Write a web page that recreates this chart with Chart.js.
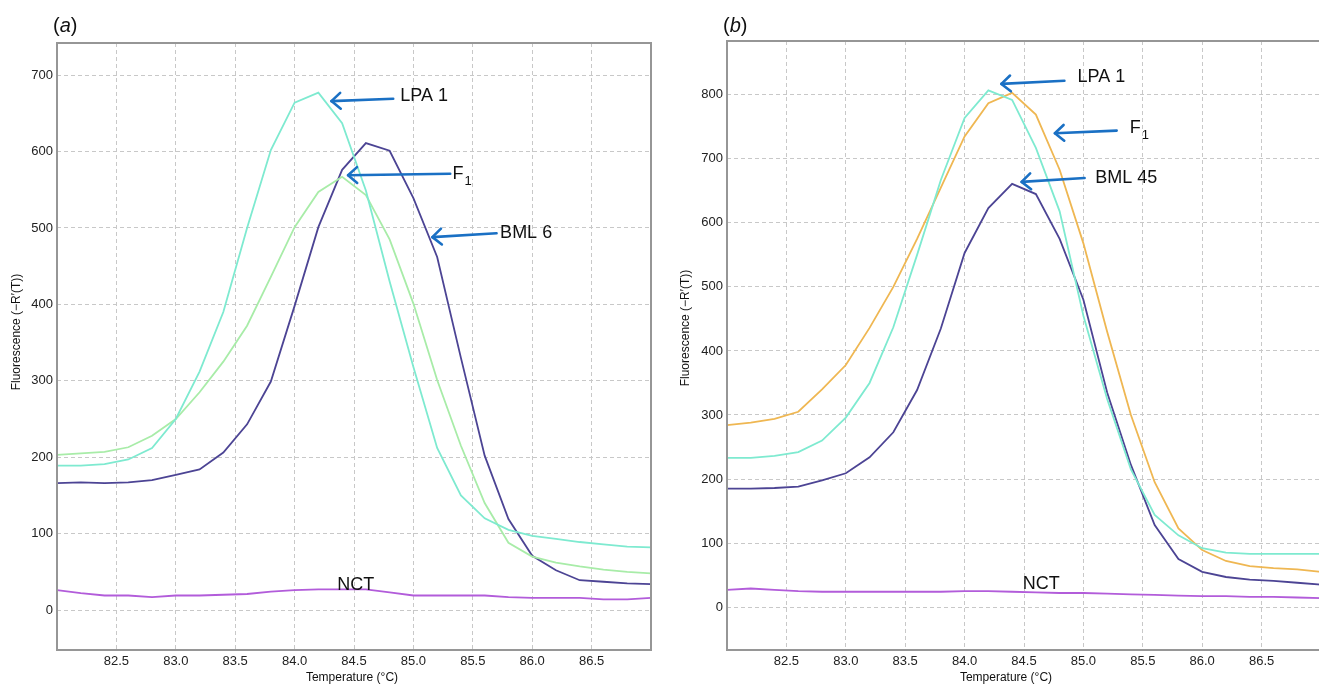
<!DOCTYPE html>
<html><head><meta charset="utf-8">
<script src="https://cdn.jsdelivr.net/npm/chart.js@4.4.1/dist/chart.umd.min.js"></script>
<style>
html,body{margin:0;padding:0;background:#fff;overflow:hidden;width:1319px;height:686px}
#wa{position:absolute;left:0;top:0;width:660px;height:686px}
#wb{position:absolute;left:660px;top:0;width:680px;height:686px}
</style></head><body>
<div id="wa"><canvas id="ca" width="660" height="686"></canvas></div>
<div id="wb"><canvas id="cb" width="680" height="686"></canvas></div>
<script>
// ---- data ----
const temperatures = [82.0,82.2,82.4,82.6,82.8,83.0,83.2,83.4,83.6,83.8,84.0,84.2,84.4,84.6,84.8,85.0,85.2,85.4,85.6,85.8,86.0,86.2,86.4,86.6,86.8,87.0];
const xTicks = [82.5,83.0,83.5,84.0,84.5,85.0,85.5,86.0,86.5];
const yTicksA = [0,100,200,300,400,500,600,700];
const yTicksB = [0,100,200,300,400,500,600,700,800];

// panel (a)
const lpa1A = [189,189,191,197,212,250,312,390,500,602,664,677,637,549,430,318,212,150,120,105,97,93,89,86,83,82];
const f1A   = [203,205,207,213,228,250,285,325,372,436,501,547,567,543,485,401,301,215,140,88,70,62,57,53,50,48];
const bml6A = [166,167,166,167,170,177,184,206,243,299,398,501,576,611,601,539,462,330,202,119,71,52,39,37,35,34];
const nctA  = [26,22,19,19,17,19,19,20,21,24,26,27,27,27,23,19,19,19,19,17,16,16,16,14,14,16];

// panel (b)
const lpa1B  = [233,233,236,242,260,296,350,437,550,667,764,807,792,717,618,455,325,215,144,112,92,85,83,83,83,83];
const f1B    = [284,288,294,305,340,378,436,500,575,655,735,787,803,769,683,568,430,300,195,123,89,72,64,61,59,55];
const bml45B = [185,185,186,188,198,209,234,273,339,435,553,623,661,645,575,480,335,222,128,75,55,47,43,41,38,35];
const nctB   = [27,29,27,25,24,24,24,24,24,24,25,25,24,23,22,22,21,20,19,18,17,17,16,16,15,14];

// ---- styles ----
const COL = {
  lpa: 'rgb(126,234,208)',
  f1a: 'rgb(168,236,168)',
  bml: 'rgb(76,68,148)',
  nct: 'rgb(178,92,218)',
  f1b: 'rgb(239,183,82)',
  arrow: 'rgb(26,112,196)',
  grid: 'rgb(200,200,200)',
  frame: 'rgb(150,150,150)',
  text: '#111'
};
const FONT = '"Liberation Sans", Arial, sans-serif';

function series(vals){ return temperatures.map((t,i)=>({x:t,y:vals[i]})); }
function ds(label, vals, color){
  return {label, data: series(vals), borderColor: color, borderWidth: 1.8,
          pointRadius: 0, tension: 0, fill: false};
}

function makeExtras(cfg){
  return {
    id: 'extras',
    afterDatasetsDraw(chart){
      const ctx = chart.ctx, a = chart.chartArea;
      const xs = chart.scales.x, ys = chart.scales.y;
      ctx.save();
      // frame
      ctx.strokeStyle = COL.frame; ctx.lineWidth = 2;
      ctx.strokeRect(a.left, a.top, a.right - a.left, a.bottom - a.top);
      // arrows
      ctx.strokeStyle = COL.arrow; ctx.lineWidth = 2.6; ctx.lineCap = 'round'; ctx.lineJoin = 'round';
      cfg.arrows.forEach(ar=>{
        const tx = xs.getPixelForValue(ar.tip[0]), ty = ys.getPixelForValue(ar.tip[1]);
        const sx = xs.getPixelForValue(ar.tail[0]), sy = ys.getPixelForValue(ar.tail[1]);
        ctx.beginPath(); ctx.moveTo(sx, sy); ctx.lineTo(tx, ty); ctx.stroke();
        const ang = Math.atan2(sy-ty, sx-tx), L = 12, w = 0.72;
        ctx.beginPath();
        ctx.moveTo(tx + L*Math.cos(ang+w), ty + L*Math.sin(ang+w));
        ctx.lineTo(tx, ty);
        ctx.lineTo(tx + L*Math.cos(ang-w), ty + L*Math.sin(ang-w));
        ctx.stroke();
      });
      // labels
      ctx.fillStyle = COL.text; ctx.textBaseline = 'middle'; ctx.textAlign = 'left';
      cfg.labels.forEach(lb=>{
        const x = xs.getPixelForValue(lb.at[0]), y = ys.getPixelForValue(lb.at[1]);
        ctx.font = '18px ' + FONT;
        ctx.fillText(lb.text, x, y);
        if (lb.sub){
          const w = ctx.measureText(lb.text).width;
          ctx.font = '13px ' + FONT;
          ctx.fillText(lb.sub, x + w + 1, y + 7);
        }
      });
      ctx.restore();
    },
    afterDraw(chart){
      const ctx = chart.ctx;
      ctx.save();
      ctx.fillStyle = COL.text;
      // panel letter
      ctx.textBaseline = 'middle'; ctx.textAlign = 'left';
      let x = cfg.panelX;
      ctx.font = '20px ' + FONT; ctx.fillText('(', x, 26); x += ctx.measureText('(').width;
      ctx.font = 'italic 20px ' + FONT; ctx.fillText(cfg.letter, x, 26); x += ctx.measureText(cfg.letter).width;
      ctx.font = '20px ' + FONT; ctx.fillText(')', x, 26);
      // axis titles
      ctx.font = '12px ' + FONT; ctx.textAlign = 'center';
      ctx.fillText('Temperature (\u00B0C)', cfg.xTitleX, 678);
      ctx.save();
      ctx.translate(cfg.yTitleX, cfg.yTitleY); ctx.rotate(-Math.PI/2);
      ctx.fillText('Fluorescence (\u2212R\u2032(T))', 0, 0);
      ctx.restore();
      ctx.restore();
    }
  };
}

function makeChart(id, datasets, yMin, yMax, yTicks, padLeft, padRight, padTop, extras){
  return new Chart(document.getElementById(id), {
    type: 'line',
    data: { datasets },
    options: {
      responsive: false, animation: false, devicePixelRatio: 1,
      layout: { padding: { left: padLeft, right: padRight, top: padTop, bottom: 0 } },
      plugins: { legend: { display: false }, tooltip: { enabled: false }, title: { display: false } },
      scales: {
        x: {
          type: 'linear', min: 82, max: 87,
          afterBuildTicks: s => { s.ticks = xTicks.map(v=>({value:v})); },
          afterFit: s => { s.height = 36; },
          ticks: { callback: v => Number(v).toFixed(1), color: '#222', font: { family: FONT, size: 13 }, padding: 4, maxRotation: 0, autoSkip: false },
          grid: { color: COL.grid, lineWidth: 1, drawTicks: false },
          border: { display: false, dash: [4,3] }
        },
        y: {
          type: 'linear', min: yMin, max: yMax,
          afterBuildTicks: s => { s.ticks = yTicks.map(v=>({value:v})); },
          afterFit: s => { s.width = 40; },
          ticks: { color: '#222', font: { family: FONT, size: 13 }, padding: 4 },
          grid: { color: COL.grid, lineWidth: 1, drawTicks: false },
          border: { display: false, dash: [4,3] }
        }
      }
    },
    plugins: [extras]
  });
}

// panel (a)
makeChart('ca', [
  ds('NCT', nctA, COL.nct),
  ds('LPA 1', lpa1A, COL.lpa),
  ds('F1', f1A, COL.f1a),
  ds('BML 6', bml6A, COL.bml)
], -52.3, 742, yTicksA, 17, 9, 43, makeExtras({
  letter: 'a', panelX: 53, xTitleX: 352, yTitleX: 17, yTitleY: 332,
  arrows: [
    { tip: [84.31, 666], tail: [84.83, 669] },
    { tip: [84.45, 569], tail: [85.31, 571] },
    { tip: [85.16, 488], tail: [85.70, 493] }
  ],
  labels: [
    { text: 'LPA 1', at: [84.89, 672] },
    { text: 'F', sub: '1', at: [85.33, 570] },
    { text: 'BML 6', at: [85.73, 493] },
    { text: 'NCT', at: [84.36, 33] }
  ]
}));

// panel (b)
makeChart('cb', [
  ds('NCT', nctB, COL.nct),
  ds('LPA 1', lpa1B, COL.lpa),
  ds('F1', f1B, COL.f1b),
  ds('BML 45', bml45B, COL.bml)
], -67, 884, yTicksB, 27, 19, 41, makeExtras({
  letter: 'b', panelX: 63, xTitleX: 346, yTitleX: 26, yTitleY: 328,
  arrows: [
    { tip: [84.31, 817], tail: [84.84, 822] },
    { tip: [84.76, 740], tail: [85.28, 744] },
    { tip: [84.48, 664], tail: [85.01, 670] }
  ],
  labels: [
    { text: 'LPA 1', at: [84.95, 827] },
    { text: 'F', sub: '1', at: [85.39, 748] },
    { text: 'BML 45', at: [85.10, 670] },
    { text: 'NCT', at: [84.49, 36] }
  ]
}));
</script>
</body></html>
